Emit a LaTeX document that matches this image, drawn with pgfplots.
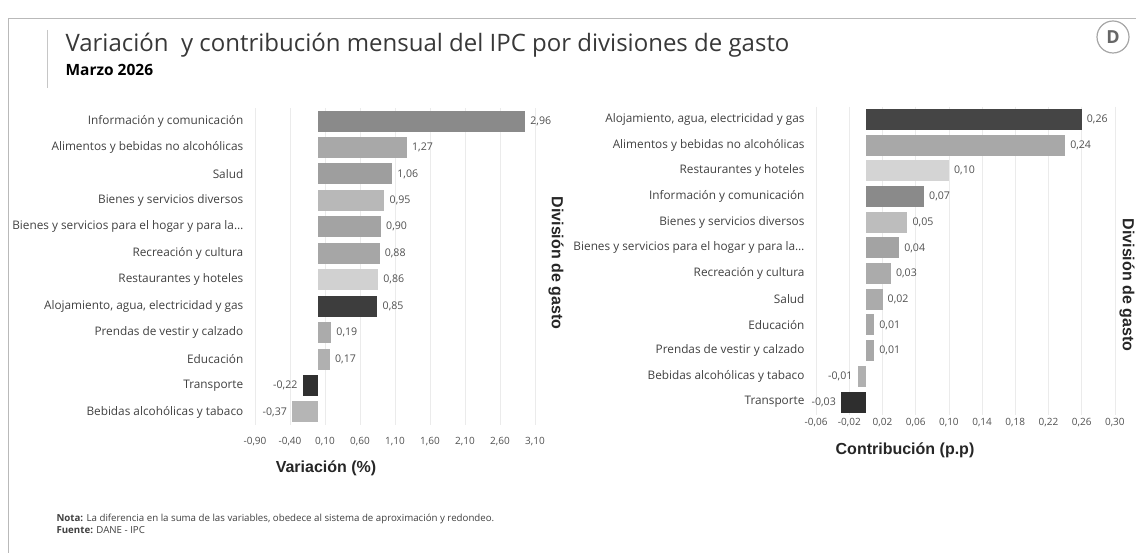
\documentclass[border=0pt]{standalone}
\usepackage{fontspec}
\setmainfont{Open Sans}
\newfontfamily\lab{Liberation Sans}
\usepackage{pgfplots}
\pgfplotsset{compat=1.18}

\definecolor{txt}{HTML}{404040}
\definecolor{tick}{HTML}{505050}
\definecolor{ttl}{HTML}{383838}

% one bar: colour, value, row
\newcommand\barp[3]{\addplot[fill=#1, draw=none] coordinates {(#2,#3)};}
\newcommand\hogar{Bienes y servicios para el hogar y para la\ldots}

\pgfplotsset{
  dane/.style={
    scale only axis, xbar, bar width=21pt, bar shift=0pt,
    y dir=reverse, ymin=-0.5, ymax=11.5, ytick={0,1,2,3,4,5,6,7,8,9,10,11},
    axis line style={draw=none}, major tick length=0pt,
    xmajorgrids, major grid style={gray!16, line width=0.6pt},
    yticklabel style={font=\fontsize{11.8}{13}\selectfont, text=txt, xshift=-4pt},
    xticklabel style={font=\fontsize{10}{12}\selectfont, text=tick},
    /pgf/number format/use comma,
    /pgf/number format/fixed,
    /pgf/number format/fixed zerofill,
    /pgf/number format/precision=2,
    /pgf/number format/assume math mode=true,
    point meta=x, nodes near coords,
    every node near coord/.append style={font=\fontsize{10.6}{12}\selectfont, text=tick, inner xsep=5pt},
  }
}

\begin{document}
\begin{tikzpicture}[x=1pt,y=1pt]
\path[use as bounding box] (0,0) rectangle (1136,553);

% frame and accent
\draw[gray!55, line width=0.8pt] (8,0) -- (8,535) -- (1136,535);
\draw[gray!45, line width=1pt] (47,523) -- (47,465);

% title
\node[anchor=base west, font=\fontsize{24}{29}\selectfont, text=ttl] at (62,501)
  {Variación\ \ y contribución mensual del IPC por divisiones de gasto};
\node[anchor=base west, font=\bfseries\fontsize{15.5}{18}\selectfont, text=black] at (62,477) {Marzo 2026};

% logo
\draw[gray!70, line width=1.2pt] (1113,516) circle (16);
\node[font=\bfseries\fontsize{18}{20}\selectfont, text=gray!80!black] at (1113,516) {D};

% left chart: variacion
\begin{axis}[dane,
  at={(250.8pt,127.8pt)}, anchor=south west,
  width=294.7pt, height=317.4pt,
  xmin=-0.96, xmax=3.25,
  xtick={-0.9,-0.4,0.1,0.6,1.1,1.6,2.1,2.6,3.1},
  xticklabel style={yshift=-9pt},
  yticklabels={Información y comunicación, Alimentos y bebidas no alcohólicas, Salud,
    Bienes y servicios diversos, {\hogar},
    Recreación y cultura, Restaurantes y hoteles, {Alojamiento, agua, electricidad y gas},
    Prendas de vestir y calzado, Educación, Transporte, Bebidas alcohólicas y tabaco}]
\barp{black!46}{2.96}{0}
\barp{black!34}{1.27}{1}
\barp{black!38}{1.06}{2}
\barp{black!28}{0.95}{3}
\barp{black!36}{0.90}{4}
\barp{black!35}{0.88}{5}
\barp{black!18}{0.86}{6}
\barp{black!76}{0.85}{7}
\barp{black!33}{0.19}{8}
\barp{black!31}{0.17}{9}
\barp{black!81}{-0.22}{10}
\barp{black!29}{-0.37}{11}
\end{axis}

% right chart: contribucion
\begin{axis}[dane,
  at={(812pt,138.1pt)}, anchor=south west,
  width=307pt, height=308.3pt,
  xmin=-0.065, xmax=0.305,
  xtick={-0.06,-0.02,0.02,0.06,0.10,0.14,0.18,0.22,0.26,0.30},
  yticklabels={{Alojamiento, agua, electricidad y gas}, Alimentos y bebidas no alcohólicas,
    Restaurantes y hoteles, Información y comunicación, Bienes y servicios diversos,
    {\hogar}, Recreación y cultura, Salud, Educación,
    Prendas de vestir y calzado, Bebidas alcohólicas y tabaco, Transporte}]
\barp{black!73}{0.26}{0}
\barp{black!34}{0.24}{1}
\barp{black!17}{0.10}{2}
\barp{black!46}{0.07}{3}
\barp{black!26}{0.05}{4}
\barp{black!36}{0.04}{5}
\barp{black!33}{0.03}{6}
\barp{black!33}{0.02}{7}
\barp{black!34}{0.01}{8}
\barp{black!34}{0.01}{9}
\barp{black!31}{-0.01}{10}
\barp{black!82}{-0.03}{11}
\end{axis}

% axis titles
\node[rotate=-90, font=\lab\bfseries\fontsize{16}{18}\selectfont, text=black!85] at (556,290) {División de gasto};
\node[rotate=-90, font=\lab\bfseries\fontsize{16}{18}\selectfont, text=black!85] at (1127,268) {División de gasto};
\node[font=\lab\bfseries\fontsize{16}{18}\selectfont, text=black!85] at (326,85) {Variación (\%)};
\node[font=\lab\bfseries\fontsize{16}{18}\selectfont, text=black!85] at (905,103) {Contribución (p.p)};

% notes
\node[anchor=base west, font=\fontsize{9.7}{11}\selectfont, text=txt] at (53,31)
  {\textbf{Nota:} La diferencia en la suma de las variables, obedece al sistema de aproximación y redondeo.};
\node[anchor=base west, font=\fontsize{9.7}{11}\selectfont, text=txt] at (53,19)
  {\textbf{Fuente:} DANE - IPC};
\end{tikzpicture}
\end{document}
